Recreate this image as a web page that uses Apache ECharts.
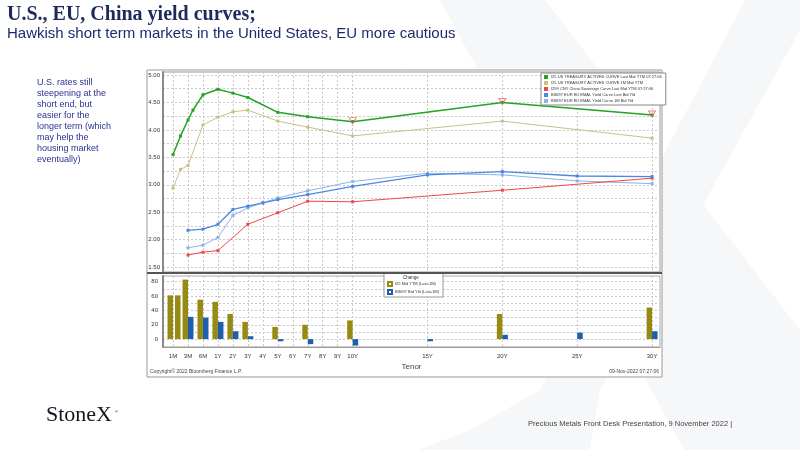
<!DOCTYPE html>
<html lang="en">
<head>
    <meta charset="UTF-8">
    <title>Yield curves</title>
    <script src="https://cdn.jsdelivr.net/npm/echarts@6/dist/echarts.min.js"></script>
    <style>
        *{
            margin: 0;
            padding: 0;
        }
        .container{
            width: 800px;
            height: 450px;
        }
    </style>
</head>
<body>
<div class="container"></div>
<script>
    // tenors
    let usTenors = ['1M', '2M', '3M', '4M', '6M', '1Y', '2Y', '3Y', '5Y', '7Y', '10Y', '20Y', '30Y'];
    let usLast = [3.55, 3.89, 4.18, 4.36, 4.64, 4.74, 4.67, 4.59, 4.32, 4.24, 4.15, 4.50, 4.27];
    let us1mTenors = ['1M', '2M', '3M', '6M', '1Y', '2Y', '3Y', '5Y', '7Y', '10Y', '20Y', '30Y'];
    let us1m = [2.94, 3.28, 3.35, 4.09, 4.23, 4.33, 4.36, 4.16, 4.05, 3.89, 4.16, 3.85];
    let cnTenors = ['3M', '6M', '1Y', '3Y', '5Y', '7Y', '10Y', '20Y', '30Y'];
    let cnLast = [1.72, 1.77, 1.80, 2.28, 2.49, 2.70, 2.69, 2.90, 3.12];
    let euTenors = ['3M', '6M', '1Y', '2Y', '3Y', '4Y', '5Y', '7Y', '10Y', '15Y', '20Y', '25Y', '30Y'];
    let euLast = [2.17, 2.19, 2.28, 2.55, 2.61, 2.67, 2.73, 2.82, 2.97, 3.18, 3.24, 3.16, 3.15];
    let eu1m = [1.85, 1.90, 2.04, 2.44, 2.58, 2.67, 2.76, 2.89, 3.06, 3.21, 3.18, 3.07, 3.02];
    let markTenors = ['10Y', '20Y', '30Y'];

    let usChgTenors = ['1M', '2M', '3M', '6M', '1Y', '2Y', '3Y', '5Y', '7Y', '10Y', '20Y', '30Y'];
    let usChg = [61, 61, 83, 55, 52, 35, 24, 17, 20, 26, 35, 44];
    let euChg = [31, 30, 24, 11, 4, 0, -3, -7, -9, -3, 6, 9, 11];

    let tickLabels = ['1M', '3M', '6M', '1Y', '2Y', '3Y', '4Y', '5Y', '6Y', '7Y', '8Y', '9Y', '10Y', '15Y', '20Y', '25Y', '30Y'];
    let yTop = [1.5, 2.0, 2.5, 3.0, 3.5, 4.0, 4.5, 5.0];
    let yTopGrid = [1.5, 1.75, 2.0, 2.25, 2.5, 2.75, 3.0, 3.25, 3.5, 3.75, 4.0, 4.25, 4.5, 4.75, 5.0];
    let yBot = [0, 20, 40, 60, 80];
    let yBotGrid = [-10, 0, 10, 20, 30, 40, 50, 60, 70, 80];

    let names = [
        'I25 US TREASURY ACTIVES CURVE Last Mid YTM 07:27:06',
        'I25 US TREASURY ACTIVES CURVE 1M Mid YTM',
        'I299 CNY China Sovereign Curve Last Mid YTM 07:27:06',
        'BS697 EUR EU EMAL Yield Curve Last Bid Yld',
        'BS697 EUR EU EMAL Yield Curve 1M Bid Yld'
    ];
    let chgNames = ['I25 Mid YTM (Last-1M)', 'BS697 Bid Yld (Last-1M)'];

    // bloomberg tenor axis: months squeezed at the short end, years linear
    function tenorPos(t) {
        let n = parseFloat(t);
        if (t.endsWith('Y')) return n;
        if (n <= 3) return -2 + (n - 1) / 2;
        return -1 + (n - 3) / 3;
    }
    function pairs(tenors, vals) {
        return tenors.map((t, i) => [tenorPos(t), vals[i]]);
    }
    let tickPos = tickLabels.map(tenorPos);
    function tickName(v) {
        let i = tickPos.findIndex(p => Math.abs(p - v) < 0.01);
        return i >= 0 ? tickLabels[i] : '';
    }

    let main = document.querySelectorAll(".container");
    let mycharts = echarts.init(main[0]);

    let small = {fontSize: 6, color: '#333', fontFamily: 'Liberation Sans'};
    let dash = {lineStyle: {type: [2, 2], color: '#c8c8c8', width: 1}};

    function lineSeries(name, data, color, width) {
        return {
            name: name,
            type: 'line',
            xAxisIndex: 0,
            yAxisIndex: 0,
            data: data,
            symbol: 'rect',
            symbolSize: 3,
            lineStyle: {color: color, width: width},
            itemStyle: {color: color},
            z: 3
        };
    }

    let series = [
        lineSeries(names[1], pairs(us1mTenors, us1m), '#cbbf86', 1),
        lineSeries(names[4], pairs(euTenors, eu1m), '#8db2e8', 1),
        lineSeries(names[2], pairs(cnTenors, cnLast), '#ee4848', 1),
        lineSeries(names[3], pairs(euTenors, euLast), '#4a88e4', 1.3),
        lineSeries(names[0], pairs(usTenors, usLast), '#23a323', 1.5),
        {
            type: 'scatter',
            xAxisIndex: 0,
            yAxisIndex: 0,
            data: markTenors.map(t => [tenorPos(t), usLast[usTenors.indexOf(t)]]),
            symbol: 'triangle',
            symbolRotate: 180,
            symbolSize: [7, 6],
            symbolOffset: [0, -1],
            itemStyle: {color: 'rgba(0,0,0,0)', borderColor: '#f06060', borderWidth: 1},
            z: 4
        },
        {
            name: chgNames[0],
            type: 'bar',
            xAxisIndex: 1,
            yAxisIndex: 1,
            data: pairs(usChgTenors, usChg),
            barWidth: 5.5,
            barGap: '0%',
            itemStyle: {color: '#978a12'}
        },
        {
            name: chgNames[1],
            type: 'bar',
            xAxisIndex: 1,
            yAxisIndex: 1,
            data: pairs(euTenors, euChg),
            barWidth: 5.5,
            barGap: '0%',
            itemStyle: {color: '#1c5fae'}
        }
    ];

    let xCommon = {
        type: 'value',
        min: -2.67,
        max: 30.53,
        axisLine: {show: true, onZero: false, lineStyle: {color: '#999'}},
        axisTick: {show: false, customValues: tickPos},
        splitLine: Object.assign({show: true}, dash)
    };

    let Option = {
        animation: false,
        backgroundColor: '#fff',
        textStyle: {fontFamily: 'Liberation Sans'},
        grid: [
            {left: 163, top: 72, width: 497, height: 200, show: true, borderColor: '#999', borderWidth: 1},
            {left: 163, top: 276, width: 497, height: 71, show: true, borderColor: '#aaa', borderWidth: 1}
        ],
        xAxis: [
            Object.assign({}, xCommon, {
                gridIndex: 0,
                axisLabel: {show: false}
            }),
            Object.assign({}, xCommon, {
                gridIndex: 1,
                axisLabel: Object.assign({customValues: tickPos, formatter: tickName, margin: 6}, small),
                name: 'Tenor',
                nameLocation: 'middle',
                nameGap: 16,
                nameTextStyle: {fontSize: 8, color: '#444'}
            })
        ],
        yAxis: [
            {
                type: 'value',
                gridIndex: 0,
                min: 1.41,
                max: 5.055,
                axisLine: {show: true, onZero: false, lineStyle: {color: '#888', width: 2}},
                axisTick: {show: false, customValues: yTopGrid},
                axisLabel: Object.assign({customValues: yTop, formatter: v => v.toFixed(2), margin: 3}, small),
                splitLine: dash
            },
            {
                type: 'value',
                gridIndex: 1,
                min: -11,
                max: 88,
                axisLine: {show: true, onZero: false, lineStyle: {color: '#888', width: 2}},
                axisTick: {show: false, customValues: yBotGrid},
                axisLabel: Object.assign({customValues: yBot, margin: 5}, small),
                splitLine: dash
            }
        ],
        legend: [
            {
                data: names,
                orient: 'vertical',
                left: 541,
                top: 73,
                padding: [2, 4, 2, 3],
                backgroundColor: '#fff',
                borderColor: '#888',
                borderWidth: 1,
                itemWidth: 4,
                itemHeight: 4,
                itemGap: 2,
                icon: 'rect',
                selectedMode: false,
                textStyle: {fontSize: 4, color: '#333', padding: [0, 0, 0, -2]}
            },
            {
                data: chgNames,
                orient: 'vertical',
                left: 384,
                top: 273,
                padding: [8, 4, 2, 3],
                backgroundColor: '#fff',
                borderColor: '#999',
                borderWidth: 1,
                itemWidth: 4,
                itemHeight: 4,
                itemGap: 2,
                icon: 'emptyRect',
                selectedMode: false,
                textStyle: {fontSize: 4, color: '#333', padding: [0, 0, 0, -2]}
            }
        ],
        graphic: [
            // faint background X
            {type: 'polygon', z: -10, shape: {points: [[440, 0], [545, 0], [800, 330], [800, 450], [684, 450]]}, style: {fill: '#f6f7f9'}},
            {type: 'polygon', z: -10, shape: {points: [[745, 0], [800, 0], [800, 30], [600, 390], [590, 450], [418, 450], [470, 430], [540, 390]]}, style: {fill: '#f6f7f9'}},
            // chart frame
            {type: 'rect', z: -5, shape: {x: 147, y: 70, width: 515, height: 307}, style: {fill: '#fff', stroke: '#999', lineWidth: 1}},
            {type: 'line', z: 50, shape: {x1: 147, y1: 273, x2: 662, y2: 273}, style: {stroke: '#555', lineWidth: 2}},
            {type: 'text', z: 100, left: 403, top: 275, style: {text: 'Change', fontSize: 4.5, fill: '#333', fontFamily: 'Liberation Sans'}},
            {type: 'text', left: 150, top: 369, style: {text: 'Copyright\u00a9 2022 Bloomberg Finance L.P.', fontSize: 5, fill: '#444', fontFamily: 'Liberation Sans'}},
            {type: 'text', right: 141, top: 369, style: {text: '09-Nov-2022 07:27:06', fontSize: 5, fill: '#444', fontFamily: 'Liberation Sans'}},
            // titles
            {type: 'text', left: 7, top: 5, style: {text: 'U.S., EU, China yield curves;', fontSize: 20, fontWeight: 'bold', fontFamily: 'Liberation Serif', fill: '#1f2a5c'}},
            {type: 'text', left: 7, top: 26, style: {text: 'Hawkish short term markets in the United States, EU more cautious', fontSize: 15, fontFamily: 'Liberation Sans', fill: '#1f2a6a'}},
            {type: 'text', left: 37, top: 77, style: {
                text: 'U.S. rates still\nsteepening at the\nshort end, but\neasier for the\nlonger term (which\nmay help the\nhousing market\neventually)',
                fontSize: 9, lineHeight: 11, fontFamily: 'Liberation Sans', fill: '#2a3290'}},
            // footer
            {type: 'text', left: 46, top: 404, style: {text: 'StoneX', fontSize: 22, fontFamily: 'Liberation Serif', fill: '#151521'}},
            {type: 'text', left: 115, top: 410, style: {text: '\u00ae', fontSize: 4, fontFamily: 'Liberation Sans', fill: '#151521'}},
            {type: 'text', left: 528, top: 420, style: {text: 'Precious Metals Front Desk Presentation, 9 November 2022 |', fontSize: 7.5, fontFamily: 'Liberation Sans', fill: '#444'}}
        ],
        series
    };

    mycharts.setOption(Option);
</script>
</body>
</html>
